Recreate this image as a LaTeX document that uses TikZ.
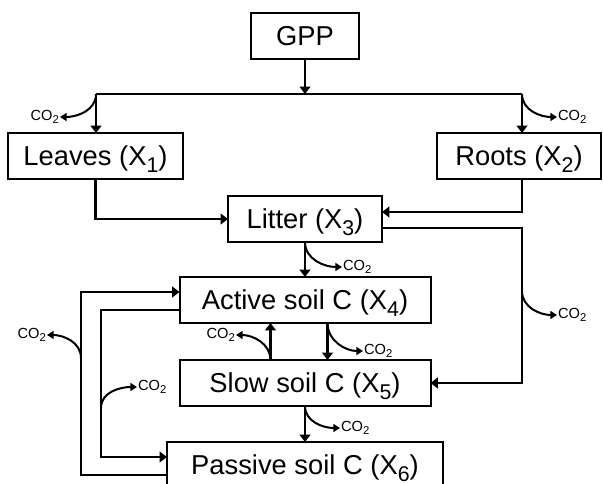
\documentclass[tikz,border=0pt]{standalone}
\usepackage{fontspec}
\setmainfont{Liberation Sans}
\usetikzlibrary{positioning}
\usetikzlibrary{arrows.meta}
\tikzset{
	pool/.style={draw, rectangle, line width=1.5pt, inner sep=0pt, outer sep=0pt, minimum height=34.5pt, text height=17pt, text depth=2.5pt, font=\fontsize{20.5}{24}\selectfont},
	% small CO2 labels next to the curved arrows
	efflux/.style={inner sep=0.6pt, font=\fontsize{11}{13}\selectfont},
}
\newcommand{\sub}[1]{\raisebox{-5pt}{\fontsize{16}{16}\selectfont #1}}
\newcommand{\cotwo}{CO\raisebox{-2.5pt}{\fontsize{8.5}{8.5}\selectfont 2}}

\begin{document}
\begin{tikzpicture}[x=0.75pt, y=-0.75pt]
		\useasboundingbox (0,0) rectangle (603,484);
		
		\node (gpp) [pool, minimum width=81pt] at (305,36) {GPP};
		\node (leaves) [pool, minimum width=131.25pt, below left=55.5pt and 51pt of gpp] {Leaves (X\sub{1})};
		\node (roots) [pool, minimum width=123pt, below right=55.5pt and 58.5pt of gpp] {Roots (X\sub{2})};
		\node (litter) [pool, minimum width=115.5pt, below=102.75pt of gpp] {Litter (X\sub{3})};
		\node (active) [pool, minimum width=188.25pt, below=26.25pt of litter] {Active soil C (X\sub{4})};
		\node (slow) [pool, minimum width=188.25pt, below=27.75pt of active] {Slow soil C (X\sub{5})};
		\node (passive) [pool, minimum width=207pt, below=27pt of slow] {Passive soil C (X\sub{6})};
		
		\coordinate (bl) at (96,94);
		\coordinate (br) at (522,94);
		\coordinate (rbus) at (522,291);
		\coordinate (obus) at (81,358);
		\coordinate (ibus) at (101,408);
		\coordinate (a2s) at ([xshift=16.9pt]active.south);
		\coordinate (s2a) at ([xshift=-25.9pt]slow.north);
		
		\node (co2l) [efflux, anchor=east] at (60,117) {\cotwo};
		\node (co2r) [efflux, anchor=west] at (557,117) {\cotwo};
		\node (co2t) [efflux, anchor=west] at (342,267) {\cotwo};
		\node (co2b) [efflux, anchor=west] at (557,315) {\cotwo};
		\node (co2a) [efflux, anchor=west] at (363,351) {\cotwo};
		\node (co2s) [efflux, anchor=east] at (236,335) {\cotwo};
		\node (co2p) [efflux, anchor=west] at (340,428) {\cotwo};
		\node (co2o) [efflux, anchor=east] at (47,335) {\cotwo};
		\node (co2i) [efflux, anchor=west] at (137,387) {\cotwo};
		
		\begin{scope}[line width=1.8pt, black, -{Triangle[length=5.5pt, width=8pt]}]
			\draw (gpp.south) -- (gpp.south |- bl);
			\draw[-] (bl) -- (br);
			\draw (bl) -- (bl |- leaves.north);
			\draw (br) -- (br |- roots.north);
			\draw (leaves.south) |- (litter.west);
			\draw ([xshift=2.25pt]roots.south) |- ([yshift=5.25pt]litter.east);
			\draw ([yshift=-6.75pt]litter.east) -| (rbus) |- (slow.east);
			\draw (litter.south) -- (litter.south |- active.north);
			\draw (a2s) -- (a2s |- slow.north);
			\draw (s2a) -- (s2a |- active.south);
			\draw (slow.south) -- (slow.south |- passive.north);
			\draw ([yshift=-7.5pt]passive.west) -| (obus) |- ([yshift=6pt]active.west);
			\draw ([yshift=-7.5pt]active.west) -| (ibus) |- ([yshift=6pt]passive.west);
		\end{scope}
		
		\begin{scope}[line width=1.5pt, black, -{Triangle[length=5pt, width=6pt]}]
			\draw (bl) to[out=-90, in=0] (co2l.east);
			\draw (br) to[out=-90, in=180] (co2r.west);
			\draw (litter.south) to[out=-90, in=180] (co2t.west);
			\draw (rbus) to[out=-90, in=180] (co2b.west);
			\draw (a2s) to[out=-90, in=180] (co2a.west);
			\draw (s2a) to[out=90, in=0] (co2s.east);
			\draw (slow.south) to[out=-90, in=180] (co2p.west);
			\draw (obus) to[out=90, in=0] (co2o.east);
			\draw (ibus) to[out=90, in=180] (co2i.west);
		\end{scope}
		
	\end{tikzpicture}
\end{document}
